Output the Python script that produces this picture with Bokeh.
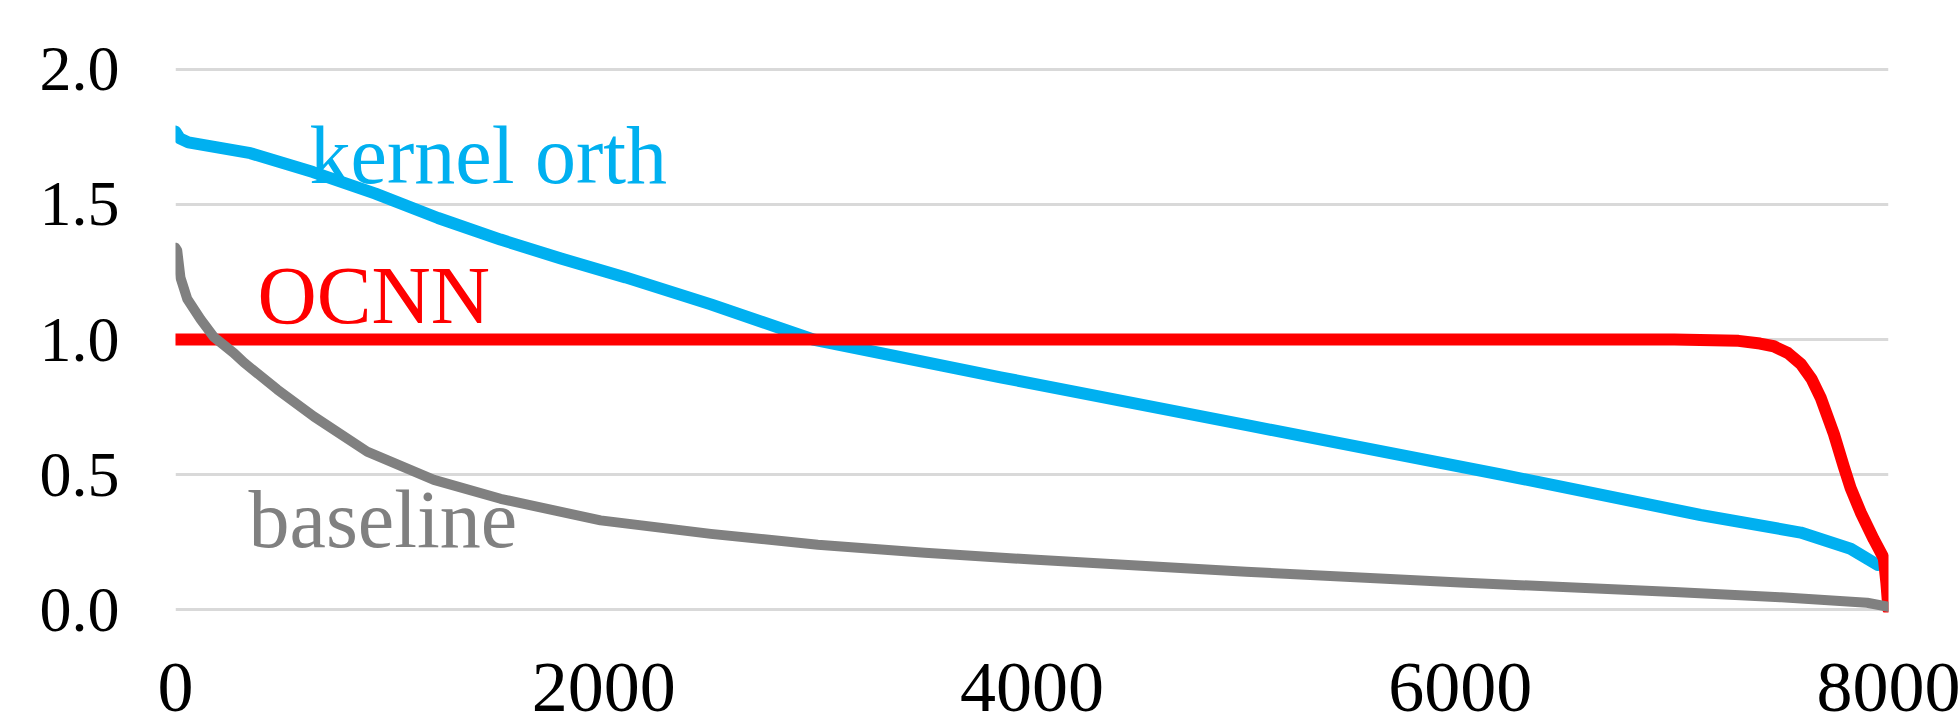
from bokeh.plotting import figure
from bokeh.models import Range1d, FixedTicker, CustomJSTickFormatter
from bokeh.core.properties import value
from bokeh.embed import file_html
from bokeh.resources import INLINE

# ---- data ----
baseline_x = [0, 8, 23, 55, 117, 178, 272, 319, 475, 646, 895, 1207, 1518, 1985,
              2500, 3000, 3500, 4000, 5000, 6000, 7000, 7500, 7900, 8000]
baseline_y = [1.34, 1.33, 1.23, 1.15, 1.075, 1.01, 0.95, 0.915, 0.815, 0.715, 0.585,
              0.48, 0.41, 0.33, 0.28, 0.24, 0.21, 0.185, 0.14, 0.10, 0.065, 0.045,
              0.025, 0.01]

kernel_x = [0, 20, 60, 350, 642, 934, 1226, 1518, 1800, 2102, 2500, 2978, 3853,
            5021, 6189, 7122, 7590, 7823, 7949]
kernel_y = [1.77, 1.745, 1.73, 1.69, 1.62, 1.54, 1.45, 1.37, 1.30, 1.23, 1.13,
            1.00, 0.86, 0.68, 0.50, 0.35, 0.285, 0.225, 0.165]

ocnn_x = [0, 1000, 3000, 5000, 7000, 7300, 7400, 7464, 7530, 7590, 7640, 7683,
          7745, 7791, 7823, 7870, 7931, 7978, 7990, 8000]
ocnn_y = [1.0, 1.0, 1.0, 1.0, 1.0, 0.995, 0.985, 0.975, 0.95, 0.91, 0.855, 0.785,
          0.65, 0.53, 0.45, 0.36, 0.26, 0.19, 0.10, 0.0]

x_ticks = [0, 2000, 4000, 6000, 8000]
y_ticks = [0.0, 0.5, 1.0, 1.5, 2.0]

labels = ["kernel orth", "OCNN", "baseline"]
label_colors = ["#00B0F0", "#FF0000", "#808080"]
label_pos_x = [626, 383, 341]
label_pos_y = [1.578, 1.059, 0.23]

FONT = "Liberation Serif"
PAD = 0.0111

p = figure(width=1960, height=725, output_backend="svg", toolbar_location=None,
           x_range=Range1d(0, 8000), y_range=Range1d(-PAD, 2.0 + PAD),
           min_border_left=175, min_border_right=72, min_border_top=66,
           min_border_bottom=113)
p.outline_line_color = None
p.background_fill_color = "white"

p.xgrid.grid_line_color = None
p.ygrid.grid_line_color = "#d9d9d9"
p.ygrid.grid_line_width = 3
p.ygrid.ticker = FixedTicker(ticks=y_ticks)

p.xaxis.ticker = FixedTicker(ticks=x_ticks)
p.yaxis.ticker = FixedTicker(ticks=y_ticks)
p.yaxis.formatter = CustomJSTickFormatter(code="return tick.toFixed(1);")
p.xaxis.formatter = CustomJSTickFormatter(code="return tick.toFixed(0);")
for ax in (p.xaxis, p.yaxis):
    ax.axis_line_color = None
    ax.major_tick_line_color = None
    ax.minor_tick_line_color = None
    ax.major_tick_in = 0
    ax.major_tick_out = 0
    ax.major_label_text_font = FONT
    ax.major_label_text_color = "black"
p.xaxis.major_label_text_font_size = "72px"
p.yaxis.major_label_text_font_size = "64px"
p.xaxis.major_label_standoff = 51
p.yaxis.major_label_standoff = 56

p.line(kernel_x, kernel_y, line_color="#00B0F0", line_width=12, line_cap="round", line_join="round")
p.line(ocnn_x, ocnn_y, line_color="#FF0000", line_width=12, line_cap="round", line_join="round")
p.line(baseline_x, baseline_y, line_color="#808080", line_width=10, line_cap="round", line_join="round")

for t, c, lx, ly in zip(labels, label_colors, label_pos_x, label_pos_y):
    p.text(x=[lx], y=[ly], text=[t], text_color=c, text_font=value(FONT),
           text_font_size="82px", text_align="left", text_baseline="alphabetic",
           y_offset=-28)

open("out.html", "w").write(file_html(p, INLINE))
